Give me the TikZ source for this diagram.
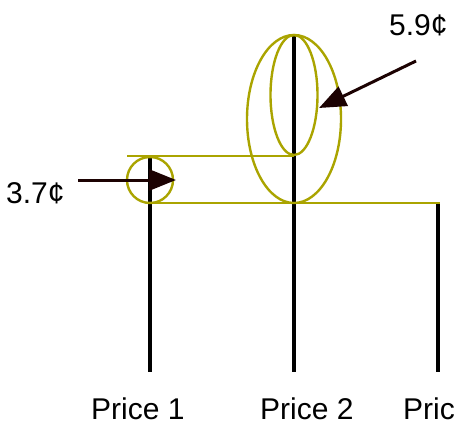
\documentclass[tikz,border=0pt]{standalone}
\usepackage{fontspec}
\setmainfont{Liberation Sans}
\usetikzlibrary{arrows.meta}
\definecolor{olivemark}{RGB}{170,164,0}
\definecolor{arrowdark}{RGB}{28,2,2}

\begin{document}
\begin{tikzpicture}[x=1pt, y=-1pt, >={Triangle[length=27pt,width=21pt]}]
  \tikzset{bar/.style={black, line width=4pt},
           ring/.style={olivemark, line width=2.4pt},
           pointer/.style={arrowdark, line width=3pt, ->},
           tag/.style={font=\fontsize{30}{32}\selectfont, inner sep=0pt, anchor=base west}}
  \useasboundingbox (0,0) rectangle (454,420);
  % the three price bars
  \coordinate (top1) at (150,155);
  \coordinate (top2) at (294,35);
  \coordinate (top3) at (438,202);
  \coordinate (foot1) at (150,372);
  \coordinate (foot2) at (294,372);
  \coordinate (foot3) at (438,372);
  \draw[bar] (top1)--(foot1);
  \draw[bar] (top2)--(foot2);
  \draw[bar] (top3)--(foot3);
  % rings and guide lines
  \draw[ring] (127,156)--(294,156);
  \draw[ring] (150,203)--(440,203);
  \draw[ring] (150,180) circle[radius=23];
  \draw[ring] (294,119) ellipse[x radius=47, y radius=84];
  \draw[ring] (294,95) ellipse[x radius=23.5, y radius=60];
  % labels
  \node[tag] (lowtag)  at (6,203)   {3.7¢};
  \node[tag] (hightag) at (389,35)  {5.9¢};
  \node[tag] (price1)  at (91,419)  {Price 1};
  \node[tag] (price2)  at (260,419) {Price 2};
  \node[tag] (price3)  at (403,419) {Price 3};
  % pointers
  \coordinate (lowfrom) at (78,180);
  \coordinate (lowto) at (176,180);
  \coordinate (highfrom) at (416,61);
  \coordinate (highto) at (319,108);
  \draw[pointer] (lowfrom)--(lowto);
  \draw[pointer] (highfrom)--(highto);
\end{tikzpicture}
\end{document}
